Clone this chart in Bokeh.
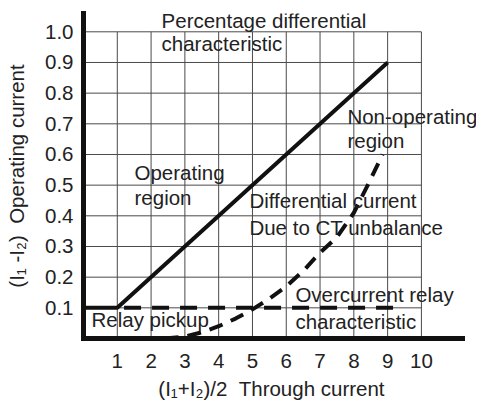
from bokeh.plotting import figure
from bokeh.models import FixedTicker, Range1d, NumeralTickFormatter, Label
from bokeh.embed import file_html
from bokeh.resources import INLINE

# ---- data ----
x_ticks = [1, 2, 3, 4, 5, 6, 7, 8, 9, 10]
y_ticks = [0.1, 0.2, 0.3, 0.4, 0.5, 0.6, 0.7, 0.8, 0.9, 1.0]
y_tick_labels = ["0.1", "0.2", "0.3", "0.4", "0.5", "0.6", "0.7", "0.8", "0.9", "1.0"]

# percentage differential characteristic (solid)
pct_x = [0, 1, 9]
pct_y = [0.1, 0.1, 0.9]

# overcurrent relay characteristic (dashed, flat)
oc_x = [1.2, 9.2]
oc_y = [0.1, 0.1]

# differential current due to CT unbalance (dashed curve)
ct_x = [2.4, 3.0, 3.5, 4.0, 4.5, 5.0, 5.5, 6.0, 6.5, 7.0, 7.5, 8.0, 8.5, 8.85]
ct_y = [0.0, 0.006, 0.02, 0.04, 0.065, 0.095, 0.13, 0.17, 0.22, 0.28, 0.33, 0.41, 0.52, 0.60]

notes = ["Percentage differential", "characteristic", "Operating", "region",
         "Non-operating", "region", "Differential current", "Due to CT unbalance",
         "Overcurrent relay", "characteristic", "Relay pickup"]
note_x = [2.31, 2.31, 1.51, 1.51, 7.81, 7.81, 4.91, 4.91, 6.27, 6.27, 0.237]
note_y = [1.037, 0.962, 0.541, 0.459, 0.724, 0.645, 0.450, 0.362, 0.143, 0.055, 0.062]

x_label = "(I\u2081+I\u2082)/2 \u00a0Through current\u00a0\u00a0\u00a0"
y_label = "(I\u2081 -I\u2082) \u00a0Operating current"

FONT = "Liberation Sans"
FS = "20.5px"
TXT = "#222222"

p = figure(frame_width=393, frame_height=325,
           x_range=Range1d(0, 11.63), y_range=Range1d(0, 1.0597),
           output_backend="svg", toolbar_location=None,
           min_border_left=83, min_border_right=0,
           min_border_top=13, min_border_bottom=40)
p.outline_line_color = None
p.xgrid.visible = False
p.ygrid.visible = False
p.background_fill_color = "white"
p.border_fill_color = "white"

# grid limited to the labelled area
n = len(x_ticks)
p.segment(x0=x_ticks, y0=[0] * n, x1=x_ticks, y1=[max(y_ticks)] * n,
          line_color="#4a4a4a", line_width=1)
m = len(y_ticks)
p.segment(x0=[0] * m, y0=y_ticks, x1=[max(x_ticks)] * m, y1=y_ticks,
          line_color="#4a4a4a", line_width=1)

# curves
p.line(ct_x, ct_y, line_color="#111111", line_width=4, line_dash="14 9")
p.line(oc_x, oc_y, line_color="#111111", line_width=4, line_dash="17 11")
p.line(pct_x, pct_y, line_color="#111111", line_width=4)

for t, xx, yy in zip(notes, note_x, note_y):
    p.add_layout(Label(x=xx, y=yy, text=t, text_font=FONT, text_font_size=FS,
                       text_color=TXT, text_baseline="alphabetic",
                       text_align="left"))

# axes
for ax in (p.xaxis[0], p.yaxis[0]):
    ax.axis_line_width = 5
    ax.axis_line_color = "#111111"
    ax.axis_line_cap = "square"
    ax.major_tick_line_color = None
    ax.minor_tick_line_color = None
    ax.major_label_text_font = FONT
    ax.major_label_text_font_size = FS
    ax.major_label_text_color = TXT
    ax.axis_label_text_font = FONT
    ax.axis_label_text_font_size = FS
    ax.axis_label_text_font_style = "normal"
    ax.axis_label_text_color = TXT

p.xaxis.bounds = (0, 11.21)
p.xaxis.ticker = FixedTicker(ticks=x_ticks)
p.yaxis.ticker = FixedTicker(ticks=y_ticks)
p.yaxis.formatter = NumeralTickFormatter(format="0.0")
p.yaxis.major_label_overrides = dict(zip(y_ticks, y_tick_labels))
p.xaxis.axis_label = x_label
p.yaxis.axis_label = y_label
p.xaxis.major_label_standoff = 9
p.yaxis.major_label_standoff = 4
p.xaxis.axis_label_standoff = 6
p.yaxis.axis_label_standoff = 14

open("out.html", "w").write(file_html(p, INLINE))
